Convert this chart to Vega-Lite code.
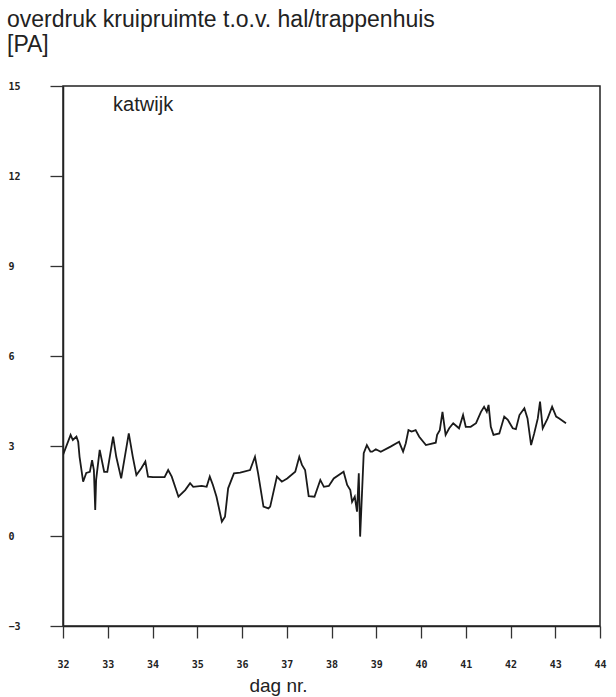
{
  "$schema": "https://vega.github.io/schema/vega-lite/v6.json",
  "width": 537,
  "height": 540,
  "autosize": "none",
  "padding": {"left": 63, "top": 86, "right": 16, "bottom": 71},
  "background": "white",
  "config": {
    "view": {"stroke": "#222", "strokeWidth": 1.5},
    "font": "Liberation Sans"
  },
  "title": {
    "text": ["overdruk kruipruimte t.o.v. hal/trappenhuis", "[PA]"],
    "anchor": "start",
    "frame": "group",
    "dx": -56,
    "offset": 24,
    "font": "Liberation Sans",
    "fontSize": 23,
    "fontWeight": "normal",
    "color": "#222",
    "lineHeight": 25
  },
  "datasets": {
    "series": [
      {"day": 32.00, "pa": 2.70}, {"day": 32.17, "pa": 3.37}, {"day": 32.22, "pa": 3.20}, {"day": 32.30, "pa": 3.31},
      {"day": 32.34, "pa": 3.14}, {"day": 32.37, "pa": 2.64}, {"day": 32.45, "pa": 1.81}, {"day": 32.52, "pa": 2.10},
      {"day": 32.60, "pa": 2.14}, {"day": 32.65, "pa": 2.53}, {"day": 32.69, "pa": 2.20}, {"day": 32.72, "pa": 0.87},
      {"day": 32.74, "pa": 1.87}, {"day": 32.82, "pa": 2.87}, {"day": 32.92, "pa": 2.14}, {"day": 32.99, "pa": 2.14},
      {"day": 33.12, "pa": 3.31}, {"day": 33.19, "pa": 2.64}, {"day": 33.30, "pa": 1.92}, {"day": 33.47, "pa": 3.42},
      {"day": 33.56, "pa": 2.64}, {"day": 33.64, "pa": 2.03}, {"day": 33.75, "pa": 2.26}, {"day": 33.84, "pa": 2.48},
      {"day": 33.90, "pa": 1.98}, {"day": 34.01, "pa": 1.96}, {"day": 34.27, "pa": 1.96}, {"day": 34.35, "pa": 2.20},
      {"day": 34.43, "pa": 1.98}, {"day": 34.58, "pa": 1.31}, {"day": 34.73, "pa": 1.53}, {"day": 34.84, "pa": 1.76},
      {"day": 34.91, "pa": 1.64}, {"day": 35.10, "pa": 1.67}, {"day": 35.21, "pa": 1.64}, {"day": 35.28, "pa": 1.98},
      {"day": 35.35, "pa": 1.70}, {"day": 35.43, "pa": 1.31}, {"day": 35.55, "pa": 0.48}, {"day": 35.62, "pa": 0.64},
      {"day": 35.69, "pa": 1.59}, {"day": 35.82, "pa": 2.09}, {"day": 35.96, "pa": 2.11}, {"day": 36.18, "pa": 2.20},
      {"day": 36.29, "pa": 2.64}, {"day": 36.36, "pa": 2.09}, {"day": 36.48, "pa": 0.98}, {"day": 36.59, "pa": 0.92},
      {"day": 36.63, "pa": 0.98}, {"day": 36.78, "pa": 1.98}, {"day": 36.89, "pa": 1.81}, {"day": 37.01, "pa": 1.92},
      {"day": 37.19, "pa": 2.14}, {"day": 37.28, "pa": 2.64}, {"day": 37.34, "pa": 2.37}, {"day": 37.41, "pa": 2.20},
      {"day": 37.49, "pa": 1.33}, {"day": 37.62, "pa": 1.31}, {"day": 37.75, "pa": 1.87}, {"day": 37.83, "pa": 1.64},
      {"day": 37.94, "pa": 1.67}, {"day": 38.05, "pa": 1.92}, {"day": 38.27, "pa": 2.14}, {"day": 38.35, "pa": 1.70},
      {"day": 38.42, "pa": 1.53}, {"day": 38.46, "pa": 1.14}, {"day": 38.52, "pa": 1.31}, {"day": 38.57, "pa": 0.81},
      {"day": 38.61, "pa": 2.09}, {"day": 38.64, "pa": -0.02}, {"day": 38.72, "pa": 2.76}, {"day": 38.79, "pa": 3.03},
      {"day": 38.87, "pa": 2.81}, {"day": 38.91, "pa": 2.81}, {"day": 38.99, "pa": 2.89}, {"day": 39.10, "pa": 2.81},
      {"day": 39.32, "pa": 2.98}, {"day": 39.51, "pa": 3.14}, {"day": 39.60, "pa": 2.81}, {"day": 39.66, "pa": 3.09},
      {"day": 39.72, "pa": 3.53}, {"day": 39.79, "pa": 3.48}, {"day": 39.88, "pa": 3.53}, {"day": 39.96, "pa": 3.31},
      {"day": 40.11, "pa": 3.03}, {"day": 40.33, "pa": 3.11}, {"day": 40.36, "pa": 3.37}, {"day": 40.42, "pa": 3.53},
      {"day": 40.48, "pa": 4.14}, {"day": 40.55, "pa": 3.37}, {"day": 40.63, "pa": 3.59}, {"day": 40.72, "pa": 3.76},
      {"day": 40.85, "pa": 3.59}, {"day": 40.94, "pa": 4.03}, {"day": 41.00, "pa": 3.64}, {"day": 41.11, "pa": 3.64},
      {"day": 41.23, "pa": 3.76}, {"day": 41.34, "pa": 4.14}, {"day": 41.41, "pa": 4.31}, {"day": 41.47, "pa": 4.14},
      {"day": 41.51, "pa": 4.37}, {"day": 41.56, "pa": 3.64}, {"day": 41.62, "pa": 3.37}, {"day": 41.75, "pa": 3.42},
      {"day": 41.86, "pa": 3.98}, {"day": 41.94, "pa": 3.87}, {"day": 42.05, "pa": 3.59}, {"day": 42.12, "pa": 3.56},
      {"day": 42.20, "pa": 4.03}, {"day": 42.31, "pa": 4.26}, {"day": 42.38, "pa": 3.92}, {"day": 42.46, "pa": 3.03},
      {"day": 42.53, "pa": 3.42}, {"day": 42.61, "pa": 3.92}, {"day": 42.66, "pa": 4.48}, {"day": 42.72, "pa": 3.59},
      {"day": 42.83, "pa": 3.92}, {"day": 42.93, "pa": 4.31}, {"day": 43.02, "pa": 3.98}, {"day": 43.09, "pa": 3.92},
      {"day": 43.24, "pa": 3.76}
    ],
    "labels": [{"day": 33.12, "pa": 14.17, "label": "katwijk"}]
  },
  "layer": [
    {
      "data": {"name": "series"},
      "mark": {"type": "line", "color": "#1a1a1a", "strokeWidth": 1.8, "clip": true},
      "encoding": {
        "x": {
          "field": "day", "type": "quantitative",
          "scale": {"domain": [32, 44], "nice": false, "zero": false},
          "axis": {
            "values": [32, 33, 34, 35, 36, 37, 38, 39, 40, 41, 42, 43, 44],
            "grid": false,
            "domainColor": "#222", "domainWidth": 1.5,
            "tickColor": "#333", "tickWidth": 1.3, "tickSize": 12,
            "labelFont": "DejaVu Sans Mono", "labelFontSize": 10, "labelFontWeight": "bold",
            "labelColor": "#222", "labelPadding": 21, "labelFlush": false,
            "title": "dag nr.",
            "titleFont": "Liberation Sans", "titleFontSize": 19, "titleFontWeight": "normal",
            "titleColor": "#222",
            "titleX": 215, "titleY": 65, "titleAlign": "center", "titleBaseline": "alphabetic"
          }
        },
        "y": {
          "field": "pa", "type": "quantitative",
          "scale": {"domain": [-3, 15], "nice": false, "zero": false},
          "axis": {
            "values": [-3, 0, 3, 6, 9, 12, 15],
            "grid": false,
            "domainColor": "#222", "domainWidth": 1.5,
            "tickColor": "#333", "tickWidth": 1.3, "tickSize": 13,
            "labelFont": "DejaVu Sans Mono", "labelFontSize": 10, "labelFontWeight": "bold",
            "labelColor": "#222", "labelPadding": 42, "labelAlign": "left", "labelFlush": false,
            "title": null
          }
        }
      }
    },
    {
      "data": {"name": "labels"},
      "mark": {"type": "text", "align": "left", "baseline": "alphabetic", "font": "Liberation Sans", "fontSize": 20, "color": "#222"},
      "encoding": {
        "x": {"field": "day", "type": "quantitative"},
        "y": {"field": "pa", "type": "quantitative"},
        "text": {"field": "label"}
      }
    }
  ]
}
